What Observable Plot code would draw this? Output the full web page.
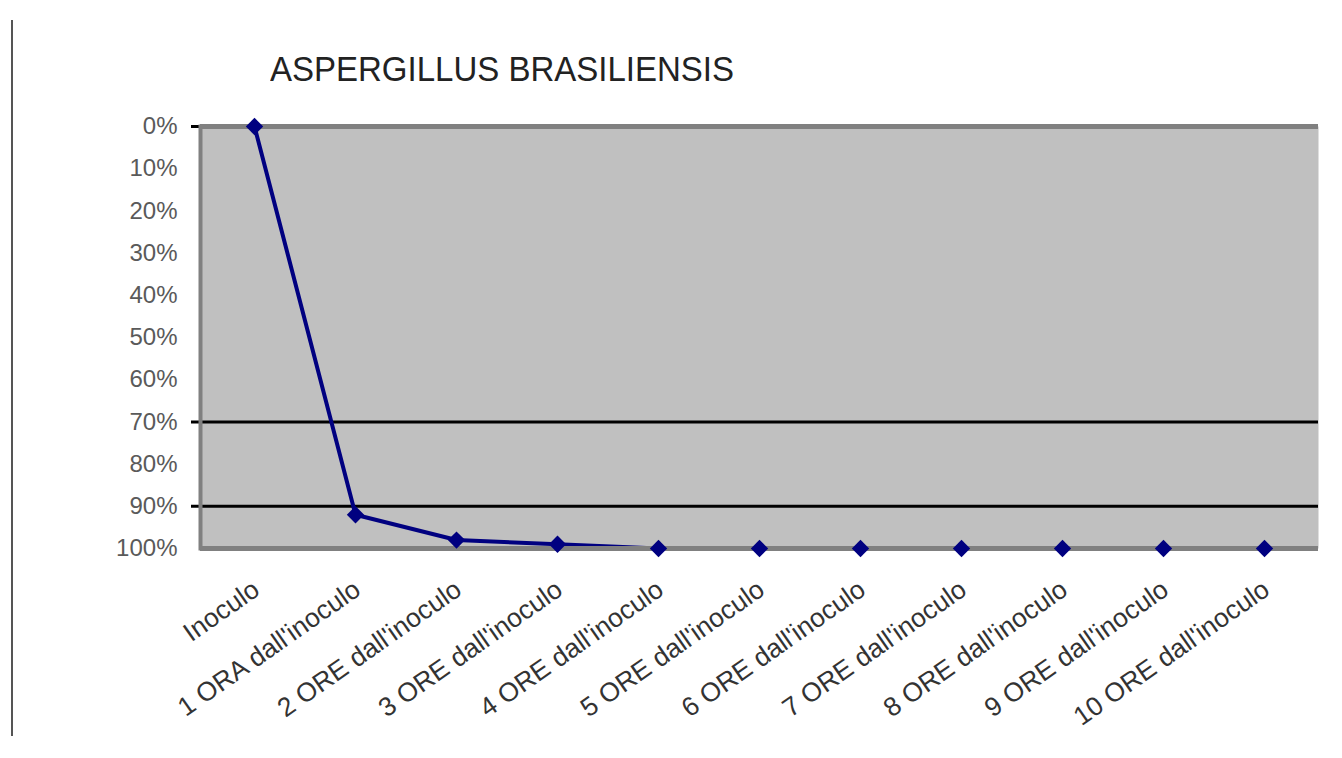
<!DOCTYPE html>
<html>
<head>
<meta charset="utf-8">
<script src="https://cdn.jsdelivr.net/npm/d3@7"></script>
<script src="https://cdn.jsdelivr.net/npm/@observablehq/plot@0.6"></script>
<style>
  html, body { margin: 0; padding: 0; background: #fff; }
  #wrap { position: relative; width: 1342px; height: 758px; overflow: hidden; }
  #leftline { position: absolute; left: 11px; top: 20px; width: 2px; height: 716px; background: #555; }
  #title { position: absolute; left: 270px; top: 49px; font-family: "Liberation Sans", Arial, sans-serif; font-size: 33px; color: #222; white-space: nowrap; transform: scaleY(1.08); transform-origin: left top; }
</style>
</head>
<body>
<div id="wrap">
  <div id="leftline"></div>
  <div id="title">ASPERGILLUS BRASILIENSIS</div>
  <div id="chart"></div>
</div>
<script>
const categories = [
  "Inoculo",
  "1 ORA dall'inoculo",
  "2 ORE dall'inoculo",
  "3 ORE dall'inoculo",
  "4 ORE dall'inoculo",
  "5 ORE dall'inoculo",
  "6 ORE dall'inoculo",
  "7 ORE dall'inoculo",
  "8 ORE dall'inoculo",
  "9 ORE dall'inoculo",
  "10 ORE dall'inoculo"
];
const reduction = [0, 92, 98, 99, 100, 100, 100, 100, 100, 100, 100];
const yTicks = [0, 10, 20, 30, 40, 50, 60, 70, 80, 90, 100];
const thresholds = [0, 70, 90];
const frameEdges = [0, 100];

const data = categories.map((c, i) => ({cat: c, value: reduction[i]}));

const chart = Plot.plot({
  width: 1342,
  height: 758,
  marginLeft: 200,
  marginRight: 24,
  marginTop: 126,
  marginBottom: 210,
  style: {fontFamily: "'Liberation Sans', Arial, sans-serif", background: "transparent"},
  x: {type: "point", domain: categories, padding: 0.5, label: null},
  y: {domain: [0, 100], reverse: true, label: null},
  marks: [
    Plot.frame({fill: "#c0c0c0", stroke: null}),
    Plot.ruleY(thresholds, {stroke: "#000", strokeWidth: 3, insetLeft: -9}),
    Plot.line(data, {x: "cat", y: "value", stroke: "#000080", strokeWidth: 4}),
    Plot.ruleY(frameEdges, {stroke: "#808080", strokeWidth: 5}),
    Plot.frame({anchor: "left", stroke: "#808080", strokeWidth: 4}),
    Plot.dot(data, {x: "cat", y: "value", symbol: "diamond2", r: 7.8, fill: "#000080", stroke: null}),
    Plot.axisY({ticks: yTicks, tickSize: 0, tickPadding: 23, tickFormat: d => d + "%", fontSize: 24, color: "#5a5a5a", label: null}),
    Plot.axisX({tickSize: 0, tickPadding: 38, tickRotate: -35, fontSize: 26.5, color: "#333", label: null, dx: 2})
  ]
});
document.getElementById("chart").appendChild(chart);
</script>
</body>
</html>
